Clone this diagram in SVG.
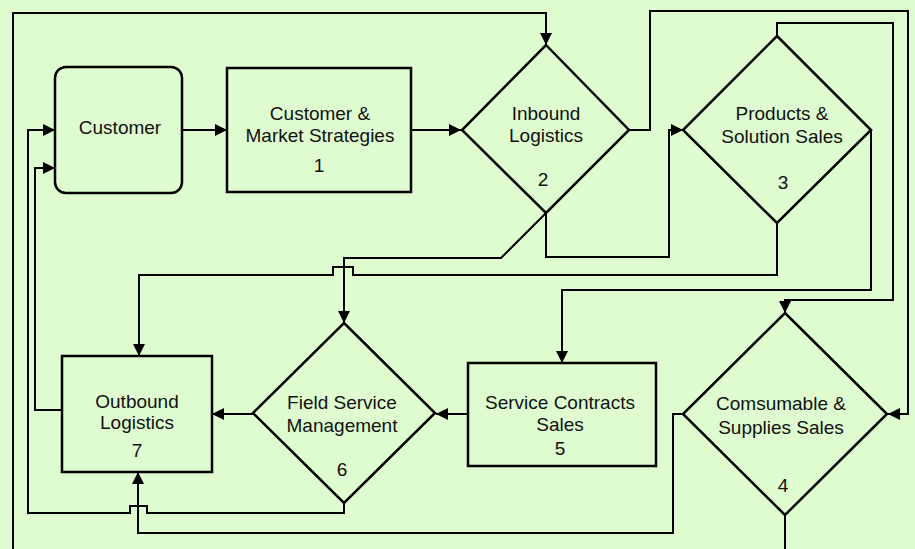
<svg xmlns="http://www.w3.org/2000/svg" width="915" height="549" viewBox="0 0 915 549">
<style>
.node{fill:none;stroke:#000;stroke-width:2.5;stroke-linejoin:miter}
.lbl{font-family:"Liberation Sans",Arial,sans-serif;font-size:19px;fill:#111;text-anchor:middle}
.c{fill:none;stroke:#000;stroke-width:2;stroke-linejoin:miter}
.a{marker-end:url(#ah)}
</style>
<defs>
<marker id="ah" markerUnits="userSpaceOnUse" markerWidth="14" markerHeight="14" refX="12" refY="6" orient="auto">
<path d="M0,0 L12,6 L0,12 z" fill="#000"/>
</marker>
</defs>
<rect x="0" y="0" width="915" height="549" fill="#defccf"/>
<g id="customer">
<rect class="node" x="55" y="67" width="127" height="126" rx="11"/>
<text class="lbl" x="120" y="134">Customer</text>
</g>
<g id="cms">
<rect class="node" x="227" y="68" width="184" height="124"/>
<text class="lbl" x="320" y="120">Customer &amp;</text>
<text class="lbl" x="320" y="142">Market Strategies</text>
<text class="lbl" x="319" y="172">1</text>
</g>
<g id="inbound">
<polygon class="node" points="546,45 629,130 546,213 462,130"/>
<text class="lbl" x="546" y="120">Inbound</text>
<text class="lbl" x="546" y="142">Logistics</text>
<text class="lbl" x="543" y="186">2</text>
</g>
<g id="products">
<polygon class="node" points="777,36 871,130 777,223 683,130"/>
<text class="lbl" x="782" y="120">Products &amp;</text>
<text class="lbl" x="782" y="143">Solution Sales</text>
<text class="lbl" x="783" y="189">3</text>
</g>
<g id="consumable">
<polygon class="node" points="785,313 887,414 785,515 683,414"/>
<text class="lbl" x="781" y="410">Comsumable &amp;</text>
<text class="lbl" x="781" y="434">Supplies Sales</text>
<text class="lbl" x="783" y="492">4</text>
</g>
<g id="service">
<rect class="node" x="468" y="363" width="188" height="103"/>
<text class="lbl" x="560" y="409">Service Contracts</text>
<text class="lbl" x="560" y="431">Sales</text>
<text class="lbl" x="560" y="455">5</text>
</g>
<g id="field">
<polygon class="node" points="344,323 435,413 344,503 253,413"/>
<text class="lbl" x="342" y="409">Field Service</text>
<text class="lbl" x="342" y="432">Management</text>
<text class="lbl" x="342" y="476">6</text>
</g>
<g id="outbound">
<rect class="node" x="62" y="356" width="150" height="116"/>
<text class="lbl" x="137" y="408">Outbound</text>
<text class="lbl" x="137" y="429">Logistics</text>
<text class="lbl" x="137" y="457">7</text>
</g>
<g id="connectors">
<path class="c a" d="M182,130 H227"/>
<path class="c a" d="M411,130 H461"/>
<path class="c a" d="M629,130 H650 V11 H908 V414 H888"/>
<path class="c a" d="M777,36 V23 H893 V300 H785 V313"/>
<path class="c a" d="M871,130 V290 H562 V363"/>
<path class="c a" d="M546,213 V257 H669 V130 H683"/>
<path class="c a" d="M546,213 L501,258 H344 V323"/>
<path class="c a" d="M777,223 V275 H353 V267 H333 V275 H139 V356"/>
<path class="c a" d="M468,414 H436"/>
<path class="c a" d="M253,414 H212"/>
<path class="c a" d="M344,503 V513 H147 V506 H130 V513 H28 V130 H55"/>
<path class="c a" d="M62,410 H35 V168 H55"/>
<path class="c a" d="M683,414 H673 V533 H138 V472"/>
<path class="c" d="M785,515 V549"/>
<path class="c a" d="M13,549 V13 H546 V45"/>
</g>
</svg>
